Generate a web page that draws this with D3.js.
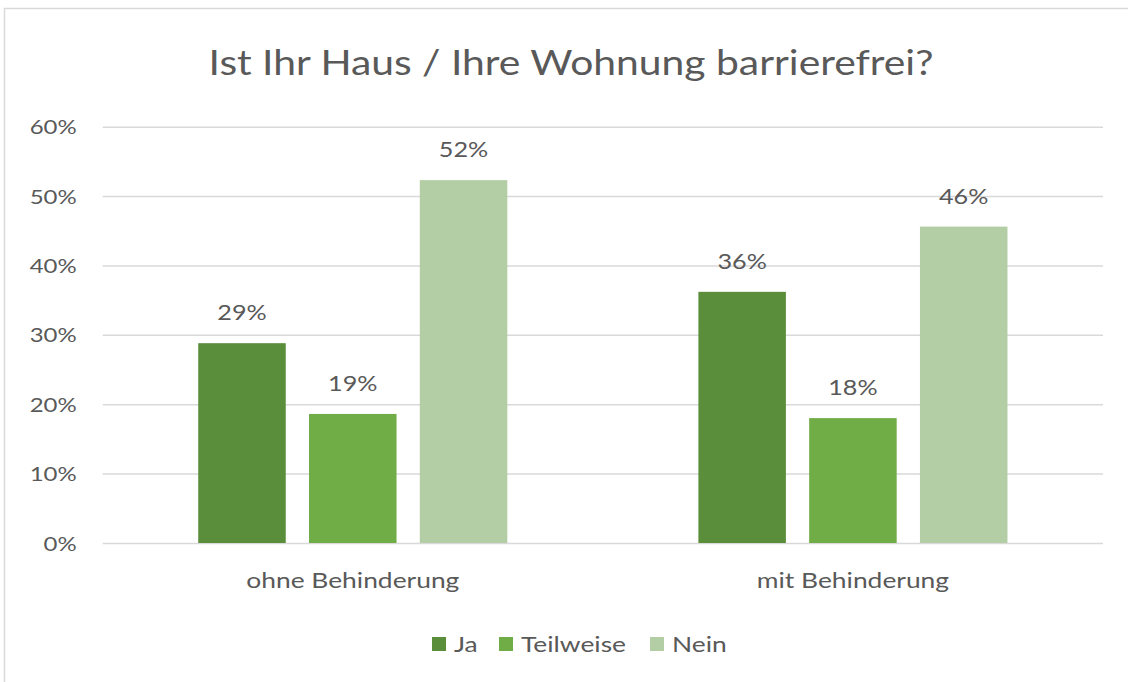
<!DOCTYPE html>
<html>
<head>
<meta charset="utf-8">
<script src="https://cdn.jsdelivr.net/npm/d3@7"></script>
<style>
  html, body { margin: 0; padding: 0; background: #fff; }
  svg text { font-family: Lato, "Open Sans", sans-serif; fill: #595959; }
</style>
</head>
<body>
<div id="chart"></div>
<script>
const title = "Ist Ihr Haus / Ihre Wohnung barrierefrei?"
const categories = ["ohne Behinderung", "mit Behinderung"]
const seriesNames = ["Ja", "Teilweise", "Nein"]
const ja = [0.288, 0.362]
const teilweise = [0.186, 0.180]
const nein = [0.523, 0.456]
const yTicks = [0, 0.1, 0.2, 0.3, 0.4, 0.5, 0.6]
const colors = ["#5B8E3A", "#70AD47", "#B3CEA5"]

const series = [ja, teilweise, nein]
const W = 1128, H = 682
const SX = 1.2 // the source picture is stretched sideways

const svg = d3.select("#chart").append("svg")
  .attr("width", W)
  .attr("height", H)

const stretch = (x, y) => `translate(${x},${y}) scale(${SX},1)`

// outer frame, right and bottom edges sit outside the picture
svg.append("rect")
  .attr("x", 4.5).attr("y", 8.5)
  .attr("width", 1200).attr("height", 1000)
  .attr("fill", "none")
  .attr("stroke", "#d9d9d9")
  .attr("stroke-width", 1.5)

svg.append("text")
  .attr("transform", stretch(571, 75))
  .attr("text-anchor", "middle")
  .style("font-size", "34px")
  .text(title)

const plot = { left: 102.7, right: 1103, top: 126.7, bottom: 543 }

const y = d3.scaleLinear()
  .domain([0, 0.6])
  .range([plot.bottom, plot.top])

const x0 = d3.scaleBand()
  .domain(categories)
  .range([plot.left, plot.right])
  .paddingInner(0.382)
  .paddingOuter(0.191)

const x1 = d3.scaleBand()
  .domain(seriesNames)
  .range([0, x0.bandwidth()])
  .paddingInner(0.21)
  .paddingOuter(0)

// gridlines + tick labels through an axis
const yAxis = svg.append("g")
  .attr("transform", `translate(${plot.left},0)`)
  .call(d3.axisLeft(y)
    .tickValues(yTicks)
    .tickFormat(d3.format(".0%"))
    .tickSize(-(plot.right - plot.left)))
yAxis.select(".domain").remove()
yAxis.selectAll(".tick line")
  .attr("stroke", "#d9d9d9")
  .attr("stroke-width", 1.5)
yAxis.selectAll(".tick text")
  .attr("x", 0)
  .attr("dy", "0.35em")
  .attr("transform", stretch(-26, 0))
  .style("font-size", "20px")
  .attr("fill", "#595959")

const groups = svg.append("g")
  .selectAll("g")
  .data(categories)
  .join("g")
  .attr("transform", d => `translate(${x0(d)},0)`)

groups.selectAll("rect")
  .data((d, i) => seriesNames.map((s, j) => ({ s, v: series[j][i], c: colors[j] })))
  .join("rect")
  .attr("x", d => x1(d.s))
  .attr("y", d => y(d.v))
  .attr("width", x1.bandwidth())
  .attr("height", d => y(0) - y(d.v))
  .attr("fill", d => d.c)

groups.selectAll("text.val")
  .data((d, i) => seriesNames.map((s, j) => ({ s, v: series[j][i] })))
  .join("text")
  .attr("class", "val")
  .attr("transform", d => stretch(x1(d.s) + x1.bandwidth() / 2, y(d.v) - 23))
  .attr("text-anchor", "middle")
  .style("font-size", "21px")
  .text(d => d3.format(".0%")(d.v))

// category labels
svg.append("g")
  .selectAll("text")
  .data(categories)
  .join("text")
  .attr("transform", d => stretch(x0(d) + x0.bandwidth() / 2, 588))
  .attr("text-anchor", "middle")
  .style("font-size", "22px")
  .text(d => d)

// legend
const legendX = [432, 499, 650]
const legend = svg.append("g")
  .selectAll("g")
  .data(seriesNames)
  .join("g")
  .attr("transform", (d, i) => `translate(${legendX[i]},637)`)
legend.append("rect")
  .attr("width", 14).attr("height", 14)
  .attr("fill", (d, i) => colors[i])
legend.append("text")
  .attr("transform", stretch(22, 15))
  .style("font-size", "22px")
  .text(d => d)
</script>
</body>
</html>
